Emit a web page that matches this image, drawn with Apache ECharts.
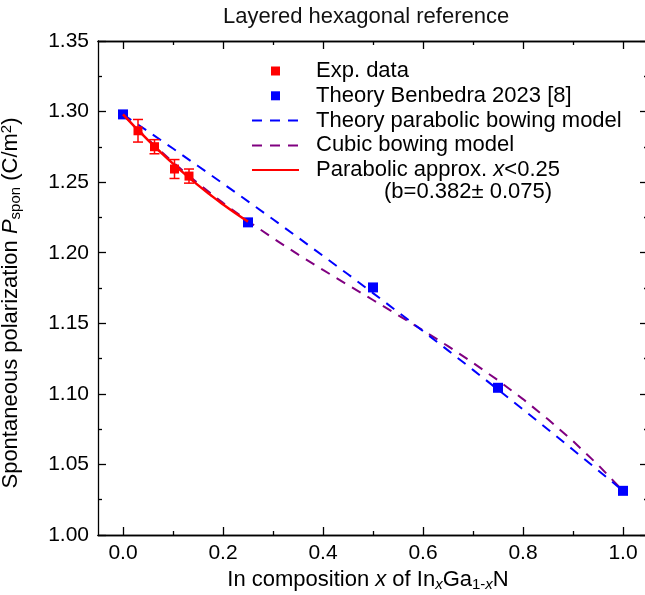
<!DOCTYPE html>
<html><head><meta charset="utf-8">
<script src="https://cdn.jsdelivr.net/npm/echarts@6/dist/echarts.min.js"></script>
<style>html,body{margin:0;padding:0;background:#fff}#c{width:645px;height:595px}</style>
</head><body><div id="c"></div>
<script>
// ---- data ----
const expX = [0.030, 0.063, 0.103, 0.132];
const expY = [1.2864, 1.2751, 1.2593, 1.2543];
const expErr = [0.008, 0.005, 0.0067, 0.005];

const theoryX = [0, 0.25, 0.5, 0.75, 1.0];
const theoryY = [1.298, 1.2215, 1.1754, 1.1043, 1.0313];

const modelX = [0, 0.05, 0.1, 0.15, 0.2, 0.25, 0.3, 0.35, 0.4, 0.45, 0.5, 0.55, 0.6, 0.65, 0.7, 0.75, 0.8, 0.85, 0.9, 0.95, 1.0];
const parabolicModelY = [1.298, 1.2860, 1.2738, 1.2614, 1.2490, 1.2364, 1.2237, 1.2108, 1.1978, 1.1847, 1.1714, 1.1580, 1.1445, 1.1308, 1.1170, 1.1030, 1.0890, 1.0748, 1.0604, 1.0459, 1.0313];
const cubicModelY = [1.298, 1.2803, 1.2640, 1.2491, 1.2353, 1.2224, 1.2103, 1.1988, 1.1878, 1.1771, 1.1665, 1.1558, 1.1450, 1.1338, 1.1220, 1.1096, 1.0963, 1.0820, 1.0665, 1.0497, 1.0313];

const approxX = [0, 0.025, 0.05, 0.075, 0.1, 0.125, 0.15, 0.175, 0.2, 0.225, 0.25];
const approxY = [1.298, 1.2887, 1.2798, 1.2713, 1.2631, 1.2553, 1.2479, 1.2409, 1.2342, 1.2279, 1.222];

const xTicks = [0, 0.2, 0.4, 0.6, 0.8, 1.0];
const xMinorTicks = [0.1, 0.3, 0.5, 0.7, 0.9];
const yMin = 1.00, yMax = 1.35, yStep = 0.05;

const seriesNames = ['Exp. data', 'Theory Benbedra 2023 [8]', 'Theory parabolic bowing model', 'Cubic bowing model', 'Parabolic approx. x<0.25'];
const titleText = 'Layered hexagonal reference';

// ---- chart ----
const FONT = '"Liberation Sans", Arial, Helvetica, sans-serif';
const BLACK = '#000';
const zip = (xs, ys) => xs.map((x, i) => [x, ys[i]]);
const lineStyleAxis = { color: BLACK, width: 1.3 };
const SQUARE = 'path://M0,0h10v10h-10z';
const HIDDEN_DOT = { color: 'rgba(0,0,0,0)', borderColor: 'rgba(0,0,0,0)', borderWidth: 0 };

const richBase = {
  a: { fontFamily: FONT, fontSize: 22, color: BLACK, lineHeight: 24 },
  i: { fontFamily: FONT, fontSize: 22, color: BLACK, lineHeight: 24, fontStyle: 'italic' },
  sub: { fontFamily: FONT, fontSize: 15, color: BLACK, lineHeight: 12, verticalAlign: 'bottom' },
  subi: { fontFamily: FONT, fontSize: 15, color: BLACK, lineHeight: 12, verticalAlign: 'bottom', fontStyle: 'italic' },
  sup: { fontFamily: FONT, fontSize: 15, color: BLACK, lineHeight: 12, verticalAlign: 'top' }
};
const legendRich = {
  a: { fontFamily: FONT, fontSize: 22, color: BLACK, lineHeight: 20 },
  i: { fontFamily: FONT, fontSize: 22, color: BLACK, lineHeight: 20, fontStyle: 'italic' },
  ind: { width: 68, lineHeight: 20 }
};
const legendRich2 = {
  a: { fontFamily: FONT, fontSize: 22, color: BLACK, lineHeight: 22 },
  i: { fontFamily: FONT, fontSize: 22, color: BLACK, lineHeight: 22, fontStyle: 'italic' },
  ind: { width: 68, lineHeight: 22 }
};

function xAxisBase(pos, ticks, len, labels) {
  return {
    type: 'value', position: pos, min: -0.05, max: 1.05,
    axisLine: { show: true, onZero: false, lineStyle: lineStyleAxis },
    axisTick: { show: true, inside: true, length: len, lineStyle: lineStyleAxis, customValues: ticks },
    axisLabel: labels ? {
      show: true, customValues: ticks, margin: 8, fontFamily: FONT, fontSize: 21, color: BLACK,
      formatter: v => v.toFixed(1)
    } : { show: false },
    splitLine: { show: false }
  };
}
function yAxisBase(pos, labels) {
  return {
    type: 'value', position: pos, min: yMin, max: yMax, interval: yStep,
    axisLine: { show: true, onZero: false, lineStyle: lineStyleAxis },
    axisTick: { show: true, inside: true, length: 8, lineStyle: lineStyleAxis },
    minorTick: { show: true, splitNumber: 2, length: 4, lineStyle: lineStyleAxis },
    axisLabel: labels ? {
      show: true, margin: 9, fontFamily: FONT, fontSize: 21, color: BLACK,
      formatter: v => v.toFixed(2)
    } : { show: false },
    splitLine: { show: false }
  };
}

const xMain = xAxisBase('bottom', xTicks, 8, true);
xMain.name = '{a|In composition }{i|x}{a| of In}{subi|x}{a|Ga}{sub|1-}{subi|x}{a|N}';
xMain.nameLocation = 'middle';
xMain.nameGap = 26;
xMain.nameTextStyle = { rich: richBase, padding: [0, 10, 0, 0] };

const yMain = yAxisBase('left', true);
yMain.name = '{a|Spontaneous polarization }{i|P}{sub|spon}{a| (C/m}{sup|2}{a|)}';
yMain.nameLocation = 'middle';
yMain.nameRotate = 90;
yMain.nameGap = 75;
yMain.nameTextStyle = { rich: richBase, padding: [0, 30, 0, 0] };

const legendCommon = {
  orient: 'vertical', left: 251, padding: 0, symbolKeepAspect: true,
  itemWidth: 47, itemHeight: 9, itemGap: 2.8, selectedMode: false,
  textStyle: { fontFamily: FONT, fontSize: 22, color: BLACK, lineHeight: 20, padding: [0, 0, 0, 12], rich: legendRich }
};

const option = {
  animation: false,
  backgroundColor: '#fff',
  title: {
    text: titleText, left: 223, top: 6, padding: 0,
    textStyle: { fontFamily: FONT, fontSize: 22, fontWeight: 'normal', color: '#111' }
  },
  grid: { left: 98, top: 41, width: 550, height: 494, containLabel: false, outerBoundsMode: 'none' },
  xAxis: [
    xMain,
    xAxisBase('bottom', xMinorTicks, 4, false),
    xAxisBase('top', xTicks, 8, false),
    xAxisBase('top', xMinorTicks, 4, false)
  ],
  yAxis: [yMain, yAxisBase('right', false)],
  legend: [
    Object.assign({}, legendCommon, {
      top: 60,
      data: [
        { name: seriesNames[0], icon: SQUARE },
        { name: seriesNames[1], icon: SQUARE },
        { name: seriesNames[2], itemStyle: HIDDEN_DOT },
        { name: seriesNames[3], itemStyle: HIDDEN_DOT }
      ],
      formatter: name => '{a|' + name + '}'
    }),
    Object.assign({}, legendCommon, {
      top: 137,
      textStyle: Object.assign({}, legendCommon.textStyle, { lineHeight: 22, padding: [22, 0, 0, 12], rich: legendRich2 }),
      data: [{ name: seriesNames[4], itemStyle: HIDDEN_DOT }],
      formatter: () => '{a|Parabolic approx. }{i|x}{a|<0.25}\n{ind|}{a|(b=0.382± 0.075)}'
    })
  ],
  series: [
    {
      name: seriesNames[3], type: 'line', data: zip(modelX, cubicModelY), symbol: 'none', smooth: false,
      lineStyle: { color: '#800080', width: 2, type: [10, 8] }, itemStyle: { color: '#800080' }, z: 2
    },
    {
      name: seriesNames[2], type: 'line', data: zip(modelX, parabolicModelY), symbol: 'none', smooth: false,
      lineStyle: { color: '#0000ff', width: 2, type: [10, 8] }, itemStyle: { color: '#0000ff' }, z: 3
    },
    {
      name: seriesNames[1], type: 'scatter', data: zip(theoryX, theoryY), symbol: 'rect', symbolSize: 10,
      itemStyle: { color: '#0000ff', opacity: 1 }, z: 4
    },
    {
      name: seriesNames[4], type: 'line', data: zip(approxX, approxY), symbol: 'none', smooth: true,
      lineStyle: { color: '#ff0000', width: 2.5, type: 'solid' }, itemStyle: { color: '#ff0000' }, z: 5
    },
    {
      name: 'error bars', type: 'custom', z: 6, silent: true,
      data: expX.map((x, i) => [x, expY[i] - expErr[i], expY[i] + expErr[i]]),
      encode: { x: 0, y: [1, 2] },
      renderItem: function (params, api) {
        const x = api.value(0);
        const lo = api.coord([x, api.value(1)]);
        const hi = api.coord([x, api.value(2)]);
        const w = 5;
        const st = { stroke: '#ff0000', lineWidth: 1.5 };
        return {
          type: 'group', children: [
            { type: 'line', shape: { x1: lo[0], y1: lo[1], x2: hi[0], y2: hi[1] }, style: st },
            { type: 'line', shape: { x1: lo[0] - w, y1: lo[1], x2: lo[0] + w, y2: lo[1] }, style: st },
            { type: 'line', shape: { x1: hi[0] - w, y1: hi[1], x2: hi[0] + w, y2: hi[1] }, style: st }
          ]
        };
      }
    },
    {
      name: seriesNames[0], type: 'scatter', data: zip(expX, expY), symbol: 'rect', symbolSize: 9,
      itemStyle: { color: '#ff0000', opacity: 1 }, z: 7
    }
  ]
};

const chart = echarts.init(document.getElementById('c'), null, { renderer: 'canvas' });
chart.setOption(option);
</script>
</body></html>
